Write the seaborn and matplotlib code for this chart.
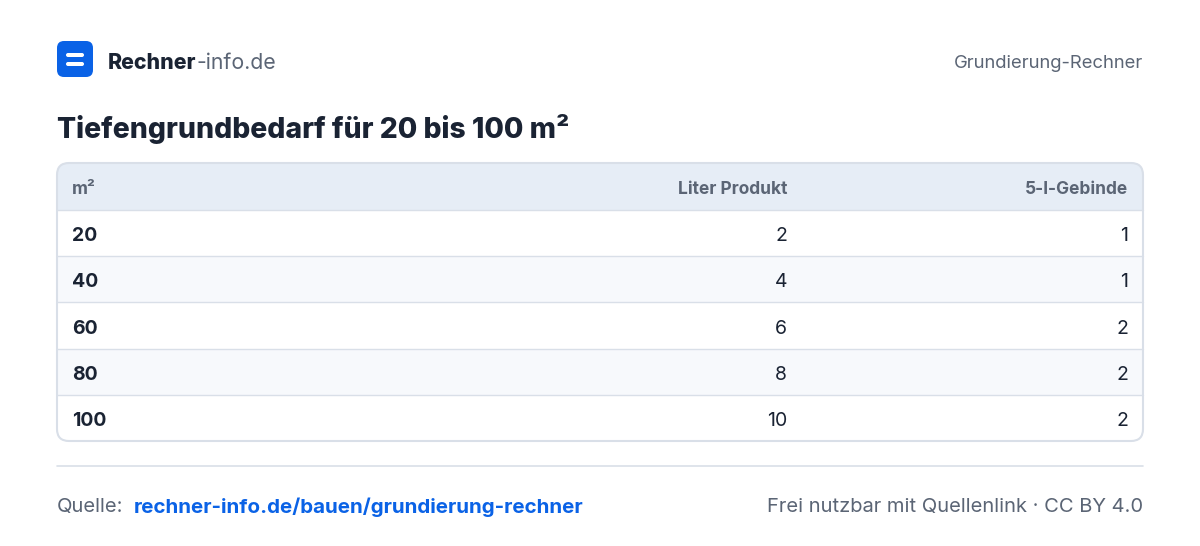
import matplotlib
matplotlib.use("Agg")
import matplotlib.pyplot as plt
import seaborn as sns
from matplotlib.patches import FancyBboxPatch, Rectangle

sns.set_theme(style="white")
plt.rcParams['font.family'] = ['Inter', 'DejaVu Sans']

columns = ["m²", "Liter Produkt", "5-l-Gebinde"]
area = ["20", "40", "60", "80", "100"]
liters = ["2", "4", "6", "8", "10"]
packs = ["1", "1", "2", "2", "2"]

title = "Tiefengrundbedarf für 20 bis 100 m²"
brand_bold = "Rechner"
brand_light = "-info.de"
topright = "Grundierung-Rechner"
source_label = "Quelle:"
source_url = "rechner-info.de/bauen/grundierung-rechner"
license_text = "Frei nutzbar mit Quellenlink · CC BY 4.0"

fig = plt.figure(figsize=(12, 5.46), dpi=100)
fig.patch.set_facecolor("white")
ax = fig.add_axes([0, 0, 1, 1])
ax.set_xlim(0, 1200)
ax.set_ylim(546, 0)
ax.axis("off")

dark = "#1a2333"
grey = "#5b6575"
border = "#d9dfe8"
VA = "center_baseline"

# logo
ax.add_patch(FancyBboxPatch((57, 41), 36, 36, boxstyle="round,pad=0,rounding_size=7",
                            fc="#0a62e6", ec="none"))
for yy in (55, 64):
    ax.add_patch(FancyBboxPatch((66, yy - 2), 18, 4, boxstyle="round,pad=0,rounding_size=2",
                                fc="white", ec="none"))
t = ax.text(108, 61, brand_bold, fontsize=15.3, fontweight="heavy", color=dark, va=VA)
fig.canvas.draw()
x_end = t.get_window_extent().x1
ax.text(x_end + 0.5, 61, brand_light, fontsize=15.3, color=grey, va=VA)
ax.text(1143, 61, topright, fontsize=13.3, color=grey, va=VA, ha="right")

ax.text(57, 126, title, fontsize=20.4, fontweight="heavy", color=dark, va=VA)

# table
x0, x1 = 57, 1143
top, head_h, row_h = 163, 47, 46.2
bottom = top + head_h + row_h * len(area)
ax.add_patch(FancyBboxPatch((x0, top), x1 - x0, bottom - top,
                            boxstyle="round,pad=0,rounding_size=12",
                            fc="white", ec="none", zorder=1))
clip = FancyBboxPatch((x0, top), x1 - x0, bottom - top,
                      boxstyle="round,pad=0,rounding_size=12", fc="none", ec="none")
ax.add_patch(clip)
hdr = Rectangle((x0, top), x1 - x0, head_h, fc="#e6edf6", ec="none", zorder=2)
ax.add_patch(hdr)
hdr.set_clip_path(clip)
for i in range(len(area)):
    y = top + head_h + i * row_h
    if i % 2 == 1:
        ax.add_patch(Rectangle((x0, y), x1 - x0, row_h, fc="#f7f9fc", ec="none", zorder=2))
    ax.plot([x0, x1], [y, y], color=border, lw=1, zorder=3)
ax.add_patch(FancyBboxPatch((x0, top), x1 - x0, bottom - top,
                            boxstyle="round,pad=0,rounding_size=12",
                            fc="none", ec=border, lw=1.5, zorder=4))

hy = top + head_h / 2 + 1
ax.text(72, hy, columns[0], fontsize=12.5, fontweight="bold", color=grey, va=VA, zorder=5)
ax.text(787, hy, columns[1], fontsize=12.5, fontweight="bold", color=grey, va=VA, ha="right", zorder=5)
ax.text(1128, hy, columns[2], fontsize=12.5, fontweight="bold", color=grey, va=VA, ha="right", zorder=5)
for i, (a, l, p) in enumerate(zip(area, liters, packs)):
    y = top + head_h + i * row_h + row_h / 2 + 1
    ax.text(72, y, a, fontsize=14, fontweight="bold", color=dark, va=VA, zorder=5)
    ax.text(787, y, l, fontsize=14, color=dark, va=VA, ha="right", zorder=5)
    ax.text(1128, y, p, fontsize=14, color=dark, va=VA, ha="right", zorder=5)

# footer
ax.plot([57, 1143], [466, 466], color=border, lw=1.2)
ax.text(57, 505, source_label, fontsize=14.5, color=grey, va=VA)
ax.text(134, 505, source_url, fontsize=14.8, fontweight="bold", color="#0a62e6", va=VA)
ax.text(1143, 505, license_text, fontsize=14.5, color=grey, va=VA, ha="right")

fig.savefig("out.png", dpi=100, facecolor="white")
